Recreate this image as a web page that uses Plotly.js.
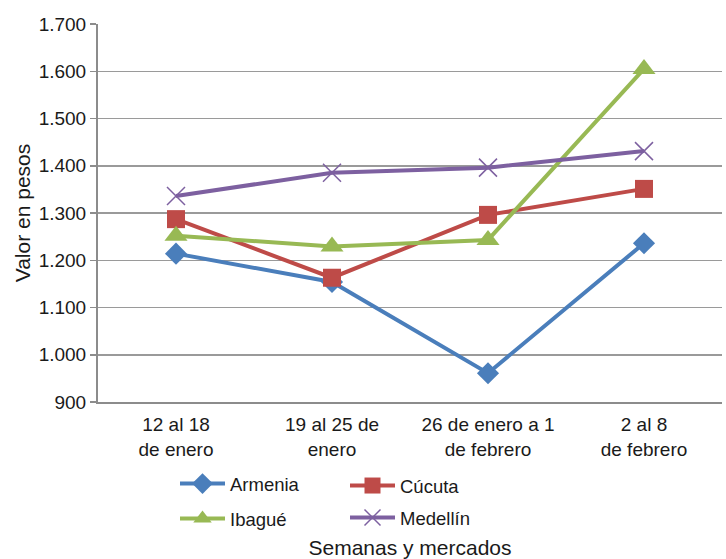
<!DOCTYPE html>
<html>
<head>
<meta charset="utf-8">
<script src="https://cdn.plot.ly/plotly-3.0.1.min.js"></script>
<style>html,body{margin:0;padding:0;background:#fff;}#chart{width:726px;height:559px;}</style>
</head>
<body>
<div id="chart"></div>
<script>
const categories = ["12 al 18<br>de enero", "19 al 25 de<br>enero", "26 de enero a 1<br>de febrero", "2 al 8<br>de febrero"];
const armenia = [1214, 1154, 961, 1236];
const cucuta = [1287, 1163, 1296, 1351];
const ibague = [1252, 1229, 1243, 1605];
const medellin = [1336, 1385, 1396, 1431];
const yTicks = [900, 1000, 1100, 1200, 1300, 1400, 1500, 1600, 1700];

const L = 98, T = 24, PW = 624, PH = 378;
function px(x){ return (x - L) / PW; }
function py(y){ return (T + PH - y) / PH; }

const series = [
  {name: "Armenia", y: armenia, color: "#4A7EBB", symbol: "diamond", size: 17, legend: "legend", lx: 175, ly: 484},
  {name: "Cúcuta", y: cucuta, color: "#BE4B48", symbol: "square", size: 18, legend: "legend2", lx: 345, ly: 486},
  {name: "Ibagué", y: ibague, color: "#98B954", symbol: "triangle-up", size: 20, legend: "legend3", lx: 175, ly: 519},
  {name: "Medellín", y: medellin, color: "#7D60A0", symbol: "x-thin-open", size: 18, legend: "legend4", lx: 345, ly: 518}
];

const traces = series.map(s => ({
  type: "scatter", mode: "lines+markers", name: s.name,
  x: categories, y: s.y, legend: s.legend,
  line: {color: s.color, width: 4},
  marker: {symbol: s.symbol, size: s.size, color: s.color,
           line: {color: s.color, width: s.symbol === "x-thin-open" ? 1.5 : 0}}
}));

const fam = "Liberation Sans, Arial, sans-serif";
const tickFont = {family: fam, size: 19, color: "#1a1a1a"};
const legFont = {family: fam, size: 18.5, color: "#1a1a1a"};
const titleFont = {family: fam, size: 21, color: "#1a1a1a"};
const layout = {
  width: 726, height: 559,
  margin: {l: L, r: 726 - L - PW, t: T, b: 559 - T - PH},
  paper_bgcolor: "#fff", plot_bgcolor: "#fff",
  separators: ",.",
  font: tickFont,
  showlegend: true,
  xaxis: {
    type: "category", range: [-0.5, 3.5],
    showgrid: false, zeroline: false,
    showline: true, linecolor: "#8c8c8c", linewidth: 2,
    ticks: "", tickfont: tickFont, ticklabelstandoff: 4,
    title: {text: "Semanas y mercados", font: titleFont, standoff: 92}
  },
  yaxis: {
    range: [900, 1700], tickvals: yTicks, tickformat: ",d",
    showgrid: true, gridcolor: "#9a9a9a", gridwidth: 1.5, zeroline: false,
    showline: true, linecolor: "#8c8c8c", linewidth: 2,
    ticks: "outside", ticklen: 6, tickcolor: "#8c8c8c", tickwidth: 1.5,
    tickfont: tickFont,
    title: {text: "Valor en pesos", font: titleFont, standoff: 2}
  }
};
series.forEach(s => {
  layout[s.legend] = {
    x: px(s.lx), y: py(s.ly), xanchor: "left", yanchor: "middle",
    orientation: "v", bgcolor: "rgba(0,0,0,0)", borderwidth: 0,
    font: legFont, itemwidth: 45
  };
});

Plotly.newPlot("chart", traces, layout, {displayModeBar: false, staticPlot: true});
</script>
</body>
</html>
